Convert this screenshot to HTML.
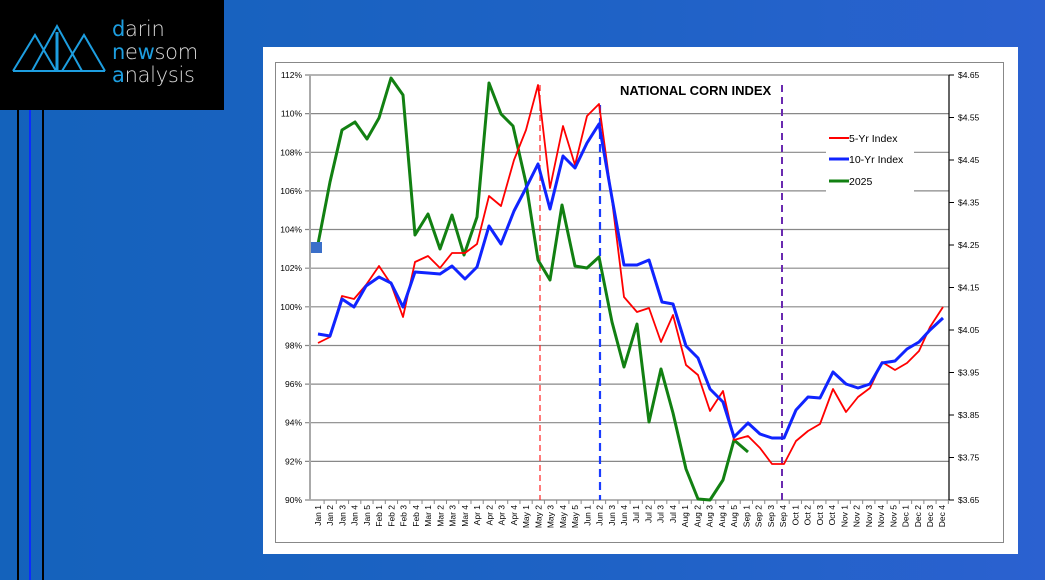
<!DOCTYPE html>
<html><head><meta charset="utf-8"><style>
body{margin:0;width:1045px;height:580px;overflow:hidden;background:linear-gradient(to right,#1462bb,#1f62c6 60%,#2b61d0);font-family:"Liberation Sans",sans-serif;position:relative}
.logo{position:absolute;left:0;top:0;width:224px;height:110px;background:#000}
.lt{position:absolute;left:112px;color:#d8d8d8;font-size:21px;line-height:22px;font-family:"DejaVu Sans","Liberation Sans",sans-serif;font-weight:200;letter-spacing:-0.3px}
.lt b{font-weight:normal;color:#1d9ee0}
.vl{position:absolute;top:110px;height:470px;width:2px}
</style></head><body>
<div class="logo">
<svg width="110" height="80" style="position:absolute;left:10px;top:20px" fill="none" stroke="#1d9ee0" stroke-width="2">
<path d="M3 51 L25 15 L46 51 M22 51 L47 6 L72 51 M52 51 L74 15 L95 51 M3 51 L95 51"/>
<path d="M47 12 L47 50" stroke-width="3"/>
</svg>
<div class="lt" style="top:18px"><b>d</b>arin</div>
<div class="lt" style="top:41px"><b>n</b>e<b>w</b>som</div>
<div class="lt" style="top:64px"><b>a</b>nalysis</div>
</div>
<div class="vl" style="left:17px;background:#000"></div>
<div class="vl" style="left:29px;background:#0a2bff"></div>
<div class="vl" style="left:42px;background:#000"></div>
<svg width="1045" height="580" style="position:absolute;left:0;top:0" font-family="Liberation Sans, sans-serif">
<rect x="263" y="47" width="755" height="507" fill="#fff"/>
<rect x="275.5" y="62.5" width="728" height="480" fill="none" stroke="#888" stroke-width="1"/>
<g stroke="#888" stroke-width="1.2">
<line x1="305" x2="949" y1="75" y2="75"/><line x1="305" x2="949" y1="113.6" y2="113.6"/><line x1="305" x2="949" y1="152.3" y2="152.3"/><line x1="305" x2="949" y1="190.9" y2="190.9"/><line x1="305" x2="949" y1="229.5" y2="229.5"/><line x1="305" x2="949" y1="268.2" y2="268.2"/><line x1="305" x2="949" y1="306.8" y2="306.8"/><line x1="305" x2="949" y1="345.5" y2="345.5"/><line x1="305" x2="949" y1="384.1" y2="384.1"/><line x1="305" x2="949" y1="422.7" y2="422.7"/><line x1="305" x2="949" y1="461.4" y2="461.4"/><line x1="305" x2="949" y1="500" y2="500"/>
</g>
<rect x="826" y="124" width="88" height="70" fill="#fff"/>
<line x1="310" x2="310" y1="75" y2="500" stroke="#aaa" stroke-width="2"/>
<line x1="949" x2="949" y1="75" y2="500" stroke="#000" stroke-width="1.2"/>
<g stroke="#000" stroke-width="1"><line x1="949" x2="954" y1="75" y2="75"/><line x1="949" x2="954" y1="117.5" y2="117.5"/><line x1="949" x2="954" y1="160" y2="160"/><line x1="949" x2="954" y1="202.5" y2="202.5"/><line x1="949" x2="954" y1="245" y2="245"/><line x1="949" x2="954" y1="287.5" y2="287.5"/><line x1="949" x2="954" y1="330" y2="330"/><line x1="949" x2="954" y1="372.5" y2="372.5"/><line x1="949" x2="954" y1="415" y2="415"/><line x1="949" x2="954" y1="457.5" y2="457.5"/><line x1="949" x2="954" y1="500" y2="500"/></g>
<g font-size="8.5" fill="#000" text-anchor="end">
<text x="302" y="78">112%</text><text x="302" y="116.6">110%</text><text x="302" y="155.3">108%</text><text x="302" y="193.9">106%</text><text x="302" y="232.5">104%</text><text x="302" y="271.2">102%</text><text x="302" y="309.8">100%</text><text x="302" y="348.5">98%</text><text x="302" y="387.1">96%</text><text x="302" y="425.7">94%</text><text x="302" y="464.4">92%</text><text x="302" y="503">90%</text>
</g>
<g font-size="8.5" fill="#000">
<text x="958" y="78">$4.65</text><text x="958" y="120.5">$4.55</text><text x="958" y="163">$4.45</text><text x="958" y="205.5">$4.35</text><text x="958" y="248">$4.25</text><text x="958" y="290.5">$4.15</text><text x="958" y="333">$4.05</text><text x="958" y="375.5">$3.95</text><text x="958" y="418">$3.85</text><text x="958" y="460.5">$3.75</text><text x="958" y="503">$3.65</text>
</g>
<g id="xl" font-size="8.5" fill="#000" text-anchor="end"></g>
<line x1="540" x2="540" y1="85" y2="500" stroke="#f22" stroke-width="1.2" stroke-dasharray="6,4"/>
<line x1="600" x2="600" y1="105" y2="500" stroke="#1a3cff" stroke-width="2.2" stroke-dasharray="8,5"/>
<line x1="782" x2="782" y1="85" y2="500" stroke="#6a2ab0" stroke-width="2" stroke-dasharray="7,5"/>
<polyline fill="none" stroke="#128012" stroke-width="3" stroke-linejoin="round" points="318,244 330,182 342,130 355,122 367,139 379,118 391,78 403,95 415,235 428,214 440,249 452,215 464,255 477,217 489,83 501,114 513,126 526,183 538,260 550,280 562,205 575,266 587,268 599,257 612,322 624,367 637,324 649,422 661,369 673,413 686,469 698,499 710,500 723,480 734,440 748,452"/>
<polyline fill="none" stroke="#f00" stroke-width="1.8" stroke-linejoin="round" points="318,343 330,337 342,296 354,299 366,285 379,266 391,284 403,317 415,262 428,256 440,268 452,253 465,253 477,244 489,196 501,206 514,160 526,130 538,85 550,188 563,126 575,165 587,116 599,104 612,200 624,297 637,312 649,308 661,342 673,315 686,365 698,375 710,411 723,391 734,440 748,436 760,448 772,464 784,464 796,441 808,431 820,424 833,389 846,412 858,397 870,388 882,362 895,370 907,363 919,351 930,327 943,307"/>
<polyline fill="none" stroke="#1024ff" stroke-width="3" stroke-linejoin="round" points="318,334 330,336 342,299 354,307 366,286 379,277 391,283 403,307 415,272 428,273 440,274 452,266 465,279 477,267 489,226 501,244 514,211 526,188 538,164 550,209 563,156 575,168 587,143 599,124 612,198 624,265 637,265 649,260 662,302 673,304 686,346 698,358 710,389 723,402 734,437 748,423 760,434 772,438 784,438 796,410 808,397 820,398 833,372 846,384 858,388 870,384 882,363 895,361 907,349 919,342 930,330 943,318"/>
<rect x="311" y="242" width="11" height="11" fill="#3a6fc9"/>
<text x="620" y="95" font-size="13" font-weight="bold" fill="#000">NATIONAL CORN INDEX</text>
<g font-size="10.5" fill="#000">
<line x1="829" x2="849" y1="138" y2="138" stroke="#f00" stroke-width="2"/><text x="849" y="142">5-Yr Index</text>
<line x1="829" x2="849" y1="159" y2="159" stroke="#1024ff" stroke-width="3"/><text x="849" y="163">10-Yr Index</text>
<line x1="829" x2="849" y1="181" y2="181" stroke="#128012" stroke-width="3"/><text x="849" y="185">2025</text>
</g>
</svg>
<script>
var n=["Jan 1","Jan 2","Jan 3","Jan 4","Jan 5","Feb 1","Feb 2","Feb 3","Feb 4","Mar 1","Mar 2","Mar 3","Mar 4","Apr 1","Apr 2","Apr 3","Apr 4","May 1","May 2","May 3","May 4","May 5","Jun 1","Jun 2","Jun 3","Jun 4","Jul 1","Jul 2","Jul 3","Jul 4","Aug 1","Aug 2","Aug 3","Aug 4","Aug 5","Sep 1","Sep 2","Sep 3","Sep 4","Oct 1","Oct 2","Oct 3","Oct 4","Nov 1","Nov 2","Nov 3","Nov 4","Nov 5","Dec 1","Dec 2","Dec 3","Dec 4"];
var g=document.getElementById("xl"),s="";
for(var i=0;i<52;i++){var x=318+i*12.24;s+='<line x1="'+(x+6.1)+'" x2="'+(x+6.1)+'" y1="500" y2="504" stroke="#888"/><text transform="translate('+(x+3)+',505) rotate(-90)">'+n[i]+'</text>';}
g.innerHTML=s;
</script>
</body></html>
